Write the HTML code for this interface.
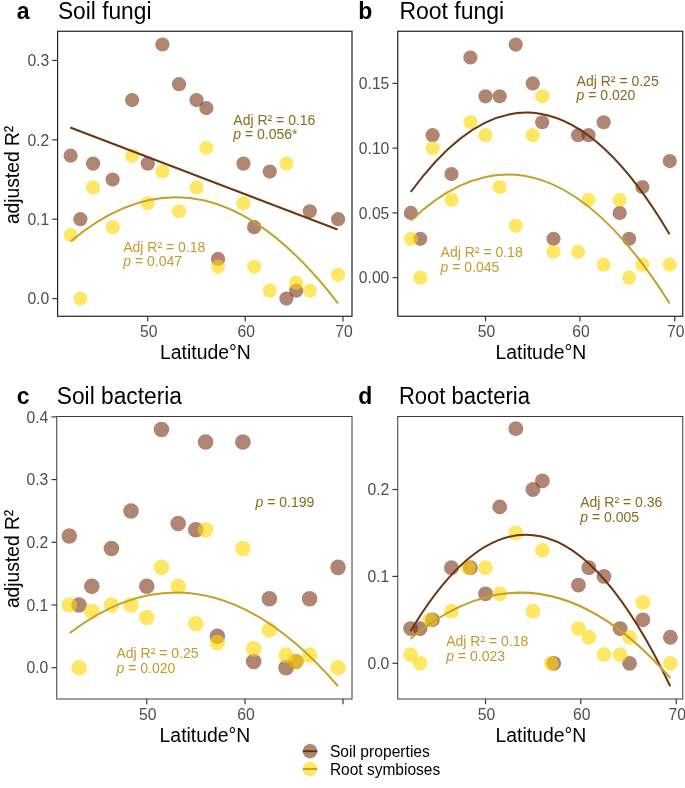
<!DOCTYPE html><html><head><meta charset="utf-8"><title>Figure</title><style>html,body{margin:0;padding:0;background:#fff}svg{display:block}text{font-family:"Liberation Sans",sans-serif}</style></head><body>
<svg width="685" height="788" viewBox="0 0 685 788">
<rect width="685" height="788" fill="#fff"/>
<g id="panel-a">
<text x="16.8" y="18.60" font-size="23" font-weight="bold" fill="#000">a</text>
<text x="57.90" y="18.60" font-size="23.5" fill="#000" textLength="93.6" lengthAdjust="spacingAndGlyphs">Soil fungi</text>
<circle cx="70.63" cy="155.68" r="7.1" fill="#7a3318" fill-opacity="0.6"/>
<circle cx="80.39" cy="219.20" r="7.1" fill="#7a3318" fill-opacity="0.6"/>
<circle cx="93.08" cy="163.62" r="7.1" fill="#7a3318" fill-opacity="0.6"/>
<circle cx="112.60" cy="179.50" r="7.1" fill="#7a3318" fill-opacity="0.6"/>
<circle cx="132.13" cy="100.10" r="7.1" fill="#7a3318" fill-opacity="0.6"/>
<circle cx="147.75" cy="163.62" r="7.1" fill="#7a3318" fill-opacity="0.6"/>
<circle cx="162.39" cy="44.52" r="7.1" fill="#7a3318" fill-opacity="0.6"/>
<circle cx="178.99" cy="84.22" r="7.1" fill="#7a3318" fill-opacity="0.6"/>
<circle cx="196.56" cy="100.10" r="7.1" fill="#7a3318" fill-opacity="0.6"/>
<circle cx="206.32" cy="108.04" r="7.1" fill="#7a3318" fill-opacity="0.6"/>
<circle cx="218.04" cy="258.90" r="7.1" fill="#7a3318" fill-opacity="0.6"/>
<circle cx="243.42" cy="163.62" r="7.1" fill="#7a3318" fill-opacity="0.6"/>
<circle cx="254.16" cy="227.14" r="7.1" fill="#7a3318" fill-opacity="0.6"/>
<circle cx="269.78" cy="171.56" r="7.1" fill="#7a3318" fill-opacity="0.6"/>
<circle cx="286.38" cy="298.60" r="7.1" fill="#7a3318" fill-opacity="0.6"/>
<circle cx="296.14" cy="290.66" r="7.1" fill="#7a3318" fill-opacity="0.6"/>
<circle cx="309.81" cy="211.26" r="7.1" fill="#7a3318" fill-opacity="0.6"/>
<circle cx="338.12" cy="219.20" r="7.1" fill="#7a3318" fill-opacity="0.6"/>
<circle cx="70.63" cy="235.08" r="7.1" fill="#ffd700" fill-opacity="0.6"/>
<circle cx="80.39" cy="298.60" r="7.1" fill="#ffd700" fill-opacity="0.6"/>
<circle cx="93.08" cy="187.44" r="7.1" fill="#ffd700" fill-opacity="0.6"/>
<circle cx="112.60" cy="227.14" r="7.1" fill="#ffd700" fill-opacity="0.6"/>
<circle cx="132.13" cy="155.68" r="7.1" fill="#ffd700" fill-opacity="0.6"/>
<circle cx="147.75" cy="203.32" r="7.1" fill="#ffd700" fill-opacity="0.6"/>
<circle cx="162.39" cy="171.56" r="7.1" fill="#ffd700" fill-opacity="0.6"/>
<circle cx="178.99" cy="211.26" r="7.1" fill="#ffd700" fill-opacity="0.6"/>
<circle cx="196.56" cy="187.44" r="7.1" fill="#ffd700" fill-opacity="0.6"/>
<circle cx="206.32" cy="147.74" r="7.1" fill="#ffd700" fill-opacity="0.6"/>
<circle cx="218.04" cy="266.84" r="7.1" fill="#ffd700" fill-opacity="0.6"/>
<circle cx="243.42" cy="203.32" r="7.1" fill="#ffd700" fill-opacity="0.6"/>
<circle cx="254.16" cy="266.84" r="7.1" fill="#ffd700" fill-opacity="0.6"/>
<circle cx="269.78" cy="290.66" r="7.1" fill="#ffd700" fill-opacity="0.6"/>
<circle cx="286.38" cy="163.62" r="7.1" fill="#ffd700" fill-opacity="0.6"/>
<circle cx="296.14" cy="282.72" r="7.1" fill="#ffd700" fill-opacity="0.6"/>
<circle cx="309.81" cy="290.66" r="7.1" fill="#ffd700" fill-opacity="0.6"/>
<circle cx="338.12" cy="274.78" r="7.1" fill="#ffd700" fill-opacity="0.6"/>
<path d="M70.25 127.5 L337.5 229.5" fill="none" stroke="#6b3510" stroke-width="2"/>
<path d="M70.85 241.20 Q204.43 128.87 338.00 303.30" fill="none" stroke="#c3a128" stroke-width="2"/>
<rect x="57.6" y="31.25" width="294.4" height="285.0" fill="none" stroke="#1a1a1a" stroke-width="1.15"/>
<path d="M52.30 298.60 H57.6" stroke="#333" stroke-width="1.15"/>
<text x="49.20" y="304.30" font-size="15.7" text-anchor="end" fill="#4d4d4d">0.0</text>
<path d="M52.30 219.20 H57.6" stroke="#333" stroke-width="1.15"/>
<text x="49.20" y="224.90" font-size="15.7" text-anchor="end" fill="#4d4d4d">0.1</text>
<path d="M52.30 139.80 H57.6" stroke="#333" stroke-width="1.15"/>
<text x="49.20" y="145.50" font-size="15.7" text-anchor="end" fill="#4d4d4d">0.2</text>
<path d="M52.30 60.40 H57.6" stroke="#333" stroke-width="1.15"/>
<text x="49.20" y="66.10" font-size="15.7" text-anchor="end" fill="#4d4d4d">0.3</text>
<path d="M147.75 316.25 V321.45" stroke="#333" stroke-width="1.15"/>
<text x="148.75" y="337.00" font-size="15.7" text-anchor="middle" fill="#4d4d4d">50</text>
<path d="M245.25 316.25 V321.45" stroke="#333" stroke-width="1.15"/>
<text x="246.25" y="337.00" font-size="15.7" text-anchor="middle" fill="#4d4d4d">60</text>
<path d="M343.00 316.25 V321.45" stroke="#333" stroke-width="1.15"/>
<text x="344.00" y="337.00" font-size="15.7" text-anchor="middle" fill="#4d4d4d">70</text>
<text x="205.40" y="358.75" font-size="20" text-anchor="middle" fill="#000" textLength="90.8" lengthAdjust="spacingAndGlyphs">Latitude°N</text>
<text transform="translate(18.5 174.95) rotate(-90)" font-size="20" text-anchor="middle" fill="#000" textLength="98.3" lengthAdjust="spacingAndGlyphs">adjusted R²</text>
<text x="233.3" y="124.8" font-size="14" fill="#8a6a1e">Adj R² = 0.16</text>
<text x="233.3" y="139.2" font-size="14" fill="#8a6a1e"><tspan font-style="italic">p</tspan> = 0.056*</text>
<text x="123.25" y="251.5" font-size="14" fill="#c39a2a">Adj R² = 0.18</text>
<text x="123.25" y="266" font-size="14" fill="#c39a2a"><tspan font-style="italic">p</tspan> = 0.047</text>
</g>
<g id="panel-b">
<text x="358.2" y="18.60" font-size="23" font-weight="bold" fill="#000">b</text>
<text x="399.40" y="18.60" font-size="23.5" fill="#000" textLength="104.8" lengthAdjust="spacingAndGlyphs">Root fungi</text>
<circle cx="410.85" cy="212.90" r="7.1" fill="#7a3318" fill-opacity="0.6"/>
<circle cx="420.30" cy="238.80" r="7.1" fill="#7a3318" fill-opacity="0.6"/>
<circle cx="432.58" cy="135.20" r="7.1" fill="#7a3318" fill-opacity="0.6"/>
<circle cx="451.48" cy="174.05" r="7.1" fill="#7a3318" fill-opacity="0.6"/>
<circle cx="470.38" cy="57.50" r="7.1" fill="#7a3318" fill-opacity="0.6"/>
<circle cx="485.50" cy="96.35" r="7.1" fill="#7a3318" fill-opacity="0.6"/>
<circle cx="499.68" cy="96.35" r="7.1" fill="#7a3318" fill-opacity="0.6"/>
<circle cx="515.74" cy="44.55" r="7.1" fill="#7a3318" fill-opacity="0.6"/>
<circle cx="532.75" cy="83.40" r="7.1" fill="#7a3318" fill-opacity="0.6"/>
<circle cx="542.20" cy="122.25" r="7.1" fill="#7a3318" fill-opacity="0.6"/>
<circle cx="553.54" cy="238.80" r="7.1" fill="#7a3318" fill-opacity="0.6"/>
<circle cx="578.11" cy="135.20" r="7.1" fill="#7a3318" fill-opacity="0.6"/>
<circle cx="588.50" cy="135.20" r="7.1" fill="#7a3318" fill-opacity="0.6"/>
<circle cx="603.62" cy="122.25" r="7.1" fill="#7a3318" fill-opacity="0.6"/>
<circle cx="619.69" cy="212.90" r="7.1" fill="#7a3318" fill-opacity="0.6"/>
<circle cx="629.14" cy="238.80" r="7.1" fill="#7a3318" fill-opacity="0.6"/>
<circle cx="642.37" cy="187.00" r="7.1" fill="#7a3318" fill-opacity="0.6"/>
<circle cx="669.77" cy="161.10" r="7.1" fill="#7a3318" fill-opacity="0.6"/>
<circle cx="410.85" cy="238.80" r="7.1" fill="#ffd700" fill-opacity="0.6"/>
<circle cx="420.30" cy="277.65" r="7.1" fill="#ffd700" fill-opacity="0.6"/>
<circle cx="432.58" cy="148.15" r="7.1" fill="#ffd700" fill-opacity="0.6"/>
<circle cx="451.48" cy="199.95" r="7.1" fill="#ffd700" fill-opacity="0.6"/>
<circle cx="470.38" cy="122.25" r="7.1" fill="#ffd700" fill-opacity="0.6"/>
<circle cx="485.50" cy="135.20" r="7.1" fill="#ffd700" fill-opacity="0.6"/>
<circle cx="499.68" cy="187.00" r="7.1" fill="#ffd700" fill-opacity="0.6"/>
<circle cx="515.74" cy="225.85" r="7.1" fill="#ffd700" fill-opacity="0.6"/>
<circle cx="532.75" cy="135.20" r="7.1" fill="#ffd700" fill-opacity="0.6"/>
<circle cx="542.20" cy="96.35" r="7.1" fill="#ffd700" fill-opacity="0.6"/>
<circle cx="553.54" cy="251.75" r="7.1" fill="#ffd700" fill-opacity="0.6"/>
<circle cx="578.11" cy="251.75" r="7.1" fill="#ffd700" fill-opacity="0.6"/>
<circle cx="588.50" cy="199.95" r="7.1" fill="#ffd700" fill-opacity="0.6"/>
<circle cx="603.62" cy="264.70" r="7.1" fill="#ffd700" fill-opacity="0.6"/>
<circle cx="619.69" cy="199.95" r="7.1" fill="#ffd700" fill-opacity="0.6"/>
<circle cx="629.14" cy="277.65" r="7.1" fill="#ffd700" fill-opacity="0.6"/>
<circle cx="642.37" cy="264.70" r="7.1" fill="#ffd700" fill-opacity="0.6"/>
<circle cx="669.77" cy="264.70" r="7.1" fill="#ffd700" fill-opacity="0.6"/>
<path d="M410.75 192.00 Q540.12 14.32 669.50 234.25" fill="none" stroke="#6b3510" stroke-width="2"/>
<path d="M410.75 220.60 Q540.23 97.17 669.70 303.50" fill="none" stroke="#c3a128" stroke-width="2"/>
<rect x="397.75" y="31.25" width="285.0" height="285.0" fill="none" stroke="#1a1a1a" stroke-width="1.15"/>
<path d="M392.45 277.65 H397.75" stroke="#333" stroke-width="1.15"/>
<text x="389.35" y="283.35" font-size="15.7" text-anchor="end" fill="#4d4d4d">0.00</text>
<path d="M392.45 212.90 H397.75" stroke="#333" stroke-width="1.15"/>
<text x="389.35" y="218.60" font-size="15.7" text-anchor="end" fill="#4d4d4d">0.05</text>
<path d="M392.45 148.15 H397.75" stroke="#333" stroke-width="1.15"/>
<text x="389.35" y="153.85" font-size="15.7" text-anchor="end" fill="#4d4d4d">0.10</text>
<path d="M392.45 83.40 H397.75" stroke="#333" stroke-width="1.15"/>
<text x="389.35" y="89.10" font-size="15.7" text-anchor="end" fill="#4d4d4d">0.15</text>
<path d="M485.50 316.25 V321.45" stroke="#333" stroke-width="1.15"/>
<text x="486.50" y="337.00" font-size="15.7" text-anchor="middle" fill="#4d4d4d">50</text>
<path d="M579.90 316.25 V321.45" stroke="#333" stroke-width="1.15"/>
<text x="580.90" y="337.00" font-size="15.7" text-anchor="middle" fill="#4d4d4d">60</text>
<path d="M674.80 316.25 V321.45" stroke="#333" stroke-width="1.15"/>
<text x="675.80" y="337.00" font-size="15.7" text-anchor="middle" fill="#4d4d4d">70</text>
<text x="540.85" y="358.75" font-size="20" text-anchor="middle" fill="#000" textLength="90.8" lengthAdjust="spacingAndGlyphs">Latitude°N</text>
<text x="576.6" y="85.6" font-size="14" fill="#8a6a1e">Adj R² = 0.25</text>
<text x="576.6" y="100.1" font-size="14" fill="#8a6a1e"><tspan font-style="italic">p</tspan> = 0.020</text>
<text x="440.6" y="257.2" font-size="14" fill="#c39a2a">Adj R² = 0.18</text>
<text x="440.6" y="271.7" font-size="14" fill="#c39a2a"><tspan font-style="italic">p</tspan> = 0.045</text>
</g>
<g id="panel-c">
<text x="16.8" y="403.85" font-size="23" font-weight="bold" fill="#000">c</text>
<text x="56.80" y="403.85" font-size="23.5" fill="#000" textLength="125.2" lengthAdjust="spacingAndGlyphs">Soil bacteria</text>
<circle cx="69.25" cy="536.03" r="7.8" fill="#7a3318" fill-opacity="0.6"/>
<circle cx="79.06" cy="605.00" r="7.8" fill="#7a3318" fill-opacity="0.6"/>
<circle cx="91.81" cy="586.19" r="7.8" fill="#7a3318" fill-opacity="0.6"/>
<circle cx="111.43" cy="548.57" r="7.8" fill="#7a3318" fill-opacity="0.6"/>
<circle cx="131.05" cy="510.95" r="7.8" fill="#7a3318" fill-opacity="0.6"/>
<circle cx="146.75" cy="586.19" r="7.8" fill="#7a3318" fill-opacity="0.6"/>
<circle cx="161.47" cy="429.44" r="7.8" fill="#7a3318" fill-opacity="0.6"/>
<circle cx="178.14" cy="523.49" r="7.8" fill="#7a3318" fill-opacity="0.6"/>
<circle cx="195.80" cy="529.76" r="7.8" fill="#7a3318" fill-opacity="0.6"/>
<circle cx="205.61" cy="441.98" r="7.8" fill="#7a3318" fill-opacity="0.6"/>
<circle cx="217.38" cy="636.35" r="7.8" fill="#7a3318" fill-opacity="0.6"/>
<circle cx="242.89" cy="441.98" r="7.8" fill="#7a3318" fill-opacity="0.6"/>
<circle cx="253.68" cy="661.43" r="7.8" fill="#7a3318" fill-opacity="0.6"/>
<circle cx="269.38" cy="598.73" r="7.8" fill="#7a3318" fill-opacity="0.6"/>
<circle cx="286.05" cy="667.70" r="7.8" fill="#7a3318" fill-opacity="0.6"/>
<circle cx="295.86" cy="661.43" r="7.8" fill="#7a3318" fill-opacity="0.6"/>
<circle cx="309.60" cy="598.73" r="7.8" fill="#7a3318" fill-opacity="0.6"/>
<circle cx="338.05" cy="567.38" r="7.8" fill="#7a3318" fill-opacity="0.6"/>
<circle cx="69.25" cy="605.00" r="7.8" fill="#ffd700" fill-opacity="0.6"/>
<circle cx="79.06" cy="667.70" r="7.8" fill="#ffd700" fill-opacity="0.6"/>
<circle cx="91.81" cy="611.27" r="7.8" fill="#ffd700" fill-opacity="0.6"/>
<circle cx="111.43" cy="605.00" r="7.8" fill="#ffd700" fill-opacity="0.6"/>
<circle cx="131.05" cy="605.00" r="7.8" fill="#ffd700" fill-opacity="0.6"/>
<circle cx="146.75" cy="617.54" r="7.8" fill="#ffd700" fill-opacity="0.6"/>
<circle cx="161.47" cy="567.38" r="7.8" fill="#ffd700" fill-opacity="0.6"/>
<circle cx="178.14" cy="586.19" r="7.8" fill="#ffd700" fill-opacity="0.6"/>
<circle cx="195.80" cy="623.81" r="7.8" fill="#ffd700" fill-opacity="0.6"/>
<circle cx="205.61" cy="529.76" r="7.8" fill="#ffd700" fill-opacity="0.6"/>
<circle cx="217.38" cy="642.62" r="7.8" fill="#ffd700" fill-opacity="0.6"/>
<circle cx="242.89" cy="548.57" r="7.8" fill="#ffd700" fill-opacity="0.6"/>
<circle cx="253.68" cy="648.89" r="7.8" fill="#ffd700" fill-opacity="0.6"/>
<circle cx="269.38" cy="630.08" r="7.8" fill="#ffd700" fill-opacity="0.6"/>
<circle cx="286.05" cy="655.16" r="7.8" fill="#ffd700" fill-opacity="0.6"/>
<circle cx="295.86" cy="661.43" r="7.8" fill="#ffd700" fill-opacity="0.6"/>
<circle cx="309.60" cy="655.16" r="7.8" fill="#ffd700" fill-opacity="0.6"/>
<circle cx="338.05" cy="667.70" r="7.8" fill="#ffd700" fill-opacity="0.6"/>
<path d="M69.75 633.00 Q203.88 530.88 338.00 686.25" fill="none" stroke="#c3a128" stroke-width="2"/>
<rect x="56.75" y="416.5" width="295.25" height="282.5" fill="none" stroke="#3a3a3a" stroke-width="1.0"/>
<path d="M51.45 667.70 H56.75" stroke="#333" stroke-width="1.15"/>
<text x="48.35" y="673.40" font-size="15.7" text-anchor="end" fill="#4d4d4d">0.0</text>
<path d="M51.45 605.00 H56.75" stroke="#333" stroke-width="1.15"/>
<text x="48.35" y="610.70" font-size="15.7" text-anchor="end" fill="#4d4d4d">0.1</text>
<path d="M51.45 542.30 H56.75" stroke="#333" stroke-width="1.15"/>
<text x="48.35" y="548.00" font-size="15.7" text-anchor="end" fill="#4d4d4d">0.2</text>
<path d="M51.45 479.60 H56.75" stroke="#333" stroke-width="1.15"/>
<text x="48.35" y="485.30" font-size="15.7" text-anchor="end" fill="#4d4d4d">0.3</text>
<path d="M51.45 416.90 H56.75" stroke="#333" stroke-width="1.15"/>
<text x="48.35" y="422.60" font-size="15.7" text-anchor="end" fill="#4d4d4d">0.4</text>
<path d="M146.75 699 V704.20" stroke="#333" stroke-width="1.15"/>
<text x="147.75" y="719.75" font-size="15.7" text-anchor="middle" fill="#4d4d4d">50</text>
<path d="M245.00 699 V704.20" stroke="#333" stroke-width="1.15"/>
<text x="246.00" y="719.75" font-size="15.7" text-anchor="middle" fill="#4d4d4d">60</text>
<path d="M343.00 699 V704.20" stroke="#333" stroke-width="1.15"/>
<text x="204.97" y="741.50" font-size="20" text-anchor="middle" fill="#000" textLength="90.8" lengthAdjust="spacingAndGlyphs">Latitude°N</text>
<text transform="translate(18.5 558.95) rotate(-90)" font-size="20" text-anchor="middle" fill="#000" textLength="98.3" lengthAdjust="spacingAndGlyphs">adjusted R²</text>
<text x="255.5" y="507" font-size="14" fill="#8a6a1e"><tspan font-style="italic">p</tspan> = 0.199</text>
<text x="116.5" y="658" font-size="14" fill="#c39a2a">Adj R² = 0.25</text>
<text x="116.5" y="672.5" font-size="14" fill="#c39a2a"><tspan font-style="italic">p</tspan> = 0.020</text>
</g>
<g id="panel-d">
<text x="358.2" y="403.85" font-size="23" font-weight="bold" fill="#000">d</text>
<text x="398.90" y="403.85" font-size="23.5" fill="#000" textLength="131" lengthAdjust="spacingAndGlyphs">Root bacteria</text>
<circle cx="410.61" cy="628.54" r="7.4" fill="#7a3318" fill-opacity="0.6"/>
<circle cx="420.09" cy="628.54" r="7.4" fill="#7a3318" fill-opacity="0.6"/>
<circle cx="432.41" cy="619.85" r="7.4" fill="#7a3318" fill-opacity="0.6"/>
<circle cx="451.37" cy="567.71" r="7.4" fill="#7a3318" fill-opacity="0.6"/>
<circle cx="470.33" cy="567.71" r="7.4" fill="#7a3318" fill-opacity="0.6"/>
<circle cx="485.50" cy="593.78" r="7.4" fill="#7a3318" fill-opacity="0.6"/>
<circle cx="499.72" cy="506.88" r="7.4" fill="#7a3318" fill-opacity="0.6"/>
<circle cx="515.84" cy="428.67" r="7.4" fill="#7a3318" fill-opacity="0.6"/>
<circle cx="532.90" cy="489.50" r="7.4" fill="#7a3318" fill-opacity="0.6"/>
<circle cx="542.38" cy="480.81" r="7.4" fill="#7a3318" fill-opacity="0.6"/>
<circle cx="553.76" cy="663.30" r="7.4" fill="#7a3318" fill-opacity="0.6"/>
<circle cx="578.40" cy="585.09" r="7.4" fill="#7a3318" fill-opacity="0.6"/>
<circle cx="588.83" cy="567.71" r="7.4" fill="#7a3318" fill-opacity="0.6"/>
<circle cx="604.00" cy="576.40" r="7.4" fill="#7a3318" fill-opacity="0.6"/>
<circle cx="620.12" cy="628.54" r="7.4" fill="#7a3318" fill-opacity="0.6"/>
<circle cx="629.60" cy="663.30" r="7.4" fill="#7a3318" fill-opacity="0.6"/>
<circle cx="642.87" cy="619.85" r="7.4" fill="#7a3318" fill-opacity="0.6"/>
<circle cx="670.36" cy="637.23" r="7.4" fill="#7a3318" fill-opacity="0.6"/>
<circle cx="410.61" cy="654.61" r="7.4" fill="#ffd700" fill-opacity="0.6"/>
<circle cx="420.09" cy="663.30" r="7.4" fill="#ffd700" fill-opacity="0.6"/>
<circle cx="430.21" cy="619.85" r="7.4" fill="#ffd700" fill-opacity="0.6"/>
<circle cx="451.37" cy="611.16" r="7.4" fill="#ffd700" fill-opacity="0.6"/>
<circle cx="468.33" cy="567.71" r="7.4" fill="#ffd700" fill-opacity="0.6"/>
<circle cx="485.50" cy="567.71" r="7.4" fill="#ffd700" fill-opacity="0.6"/>
<circle cx="499.72" cy="593.78" r="7.4" fill="#ffd700" fill-opacity="0.6"/>
<circle cx="515.84" cy="532.95" r="7.4" fill="#ffd700" fill-opacity="0.6"/>
<circle cx="532.90" cy="611.16" r="7.4" fill="#ffd700" fill-opacity="0.6"/>
<circle cx="542.38" cy="550.33" r="7.4" fill="#ffd700" fill-opacity="0.6"/>
<circle cx="551.26" cy="663.30" r="7.4" fill="#ffd700" fill-opacity="0.6"/>
<circle cx="578.40" cy="628.54" r="7.4" fill="#ffd700" fill-opacity="0.6"/>
<circle cx="588.83" cy="637.23" r="7.4" fill="#ffd700" fill-opacity="0.6"/>
<circle cx="604.00" cy="654.61" r="7.4" fill="#ffd700" fill-opacity="0.6"/>
<circle cx="620.12" cy="654.61" r="7.4" fill="#ffd700" fill-opacity="0.6"/>
<circle cx="629.60" cy="637.23" r="7.4" fill="#ffd700" fill-opacity="0.6"/>
<circle cx="642.87" cy="602.47" r="7.4" fill="#ffd700" fill-opacity="0.6"/>
<circle cx="670.36" cy="663.30" r="7.4" fill="#ffd700" fill-opacity="0.6"/>
<path d="M410.50 631.25 Q540.38 413.74 670.25 686.25" fill="none" stroke="#6b3510" stroke-width="2"/>
<path d="M410.50 638.75 Q540.38 529.82 670.25 678.00" fill="none" stroke="#c3a128" stroke-width="2"/>
<rect x="397.75" y="416.5" width="285.0" height="282.5" fill="none" stroke="#3a3a3a" stroke-width="1.0"/>
<path d="M392.45 663.30 H397.75" stroke="#333" stroke-width="1.15"/>
<text x="389.35" y="669.00" font-size="15.7" text-anchor="end" fill="#4d4d4d">0.0</text>
<path d="M392.45 576.40 H397.75" stroke="#333" stroke-width="1.15"/>
<text x="389.35" y="582.10" font-size="15.7" text-anchor="end" fill="#4d4d4d">0.1</text>
<path d="M392.45 489.50 H397.75" stroke="#333" stroke-width="1.15"/>
<text x="389.35" y="495.20" font-size="15.7" text-anchor="end" fill="#4d4d4d">0.2</text>
<path d="M485.50 699 V704.20" stroke="#333" stroke-width="1.15"/>
<text x="486.50" y="719.75" font-size="15.7" text-anchor="middle" fill="#4d4d4d">50</text>
<path d="M580.75 699 V704.20" stroke="#333" stroke-width="1.15"/>
<text x="581.75" y="719.75" font-size="15.7" text-anchor="middle" fill="#4d4d4d">60</text>
<path d="M676.25 699 V704.20" stroke="#333" stroke-width="1.15"/>
<text x="677.25" y="719.75" font-size="15.7" text-anchor="middle" fill="#4d4d4d">70</text>
<text x="540.85" y="741.50" font-size="20" text-anchor="middle" fill="#000" textLength="90.8" lengthAdjust="spacingAndGlyphs">Latitude°N</text>
<text x="580.25" y="507" font-size="14" fill="#8a6a1e">Adj R² = 0.36</text>
<text x="580.25" y="521.75" font-size="14" fill="#8a6a1e"><tspan font-style="italic">p</tspan> = 0.005</text>
<text x="446.25" y="645.5" font-size="14" fill="#c39a2a">Adj R² = 0.18</text>
<text x="446.25" y="660.5" font-size="14" fill="#c39a2a"><tspan font-style="italic">p</tspan> = 0.023</text>
</g>
<g id="legend">
<circle cx="310" cy="751.2" r="7.3" fill="#7a3318" fill-opacity="0.6"/>
<path d="M302.8 751.2 H317.2" stroke="#6b3510" stroke-width="2"/>
<text x="329.9" y="757.4" font-size="17" fill="#000" textLength="100" lengthAdjust="spacingAndGlyphs">Soil properties</text>
<circle cx="310" cy="769" r="7.3" fill="#ffd700" fill-opacity="0.6"/>
<path d="M302.8 769 H317.2" stroke="#c3a128" stroke-width="2"/>
<text x="329.9" y="774.6" font-size="17" fill="#000" textLength="110.3" lengthAdjust="spacingAndGlyphs">Root symbioses</text>
</g>
</svg></body></html>
